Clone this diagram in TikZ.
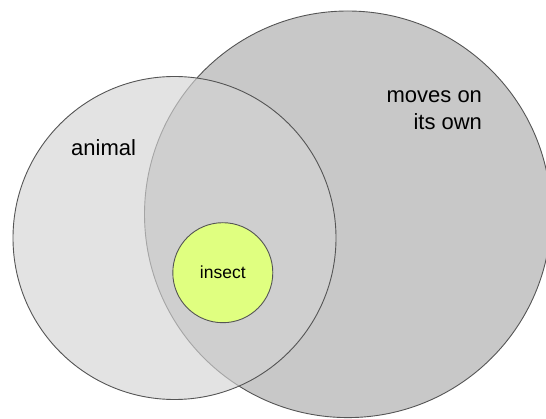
\documentclass[tikz,border=0pt]{standalone}
\usepackage{fontspec}
\setmainfont{Liberation Sans}
\definecolor{bigfill}{HTML}{C8C8C8}
\definecolor{leftfill}{HTML}{D3D3D3}
\definecolor{insectfill}{HTML}{E0FF80}
\definecolor{edge}{HTML}{555555}
\tikzset{
  venn/.style={circle, inner sep=0pt, outer sep=0pt, draw=edge, line width=0.9pt},
  lbl/.style={inner sep=0pt, font=\fontsize{22}{26.6}\selectfont}
}
\begin{document}
\begin{tikzpicture}[x=1pt,y=-1pt]
\useasboundingbox (0,0) rectangle (546,419);
\clip (0,0) rectangle (546,419);
\node[venn, fill=bigfill, minimum size=406.6pt] (moves) at (347.8,214.3) {};
\node[venn, fill=leftfill, fill opacity=0.64, draw opacity=1, minimum size=323pt] (animal) at (174.5,238) {};
\node[venn, fill=insectfill, minimum size=100pt] (insect) at (222.8,272.7) {};
\node[inner sep=0pt, anchor=base, font=\fontsize{17.5}{20}\selectfont] (insectlbl) at (222.8,279) {insect};
\node[lbl, anchor=base west] (animallbl) at (71,156) {animal};
\node[lbl, anchor=base east] (moves1) at (482.2,102.7) {moves on};
\node[lbl, anchor=base east] (moves2) at (482.2,129.3) {its own};
\end{tikzpicture}
\end{document}
